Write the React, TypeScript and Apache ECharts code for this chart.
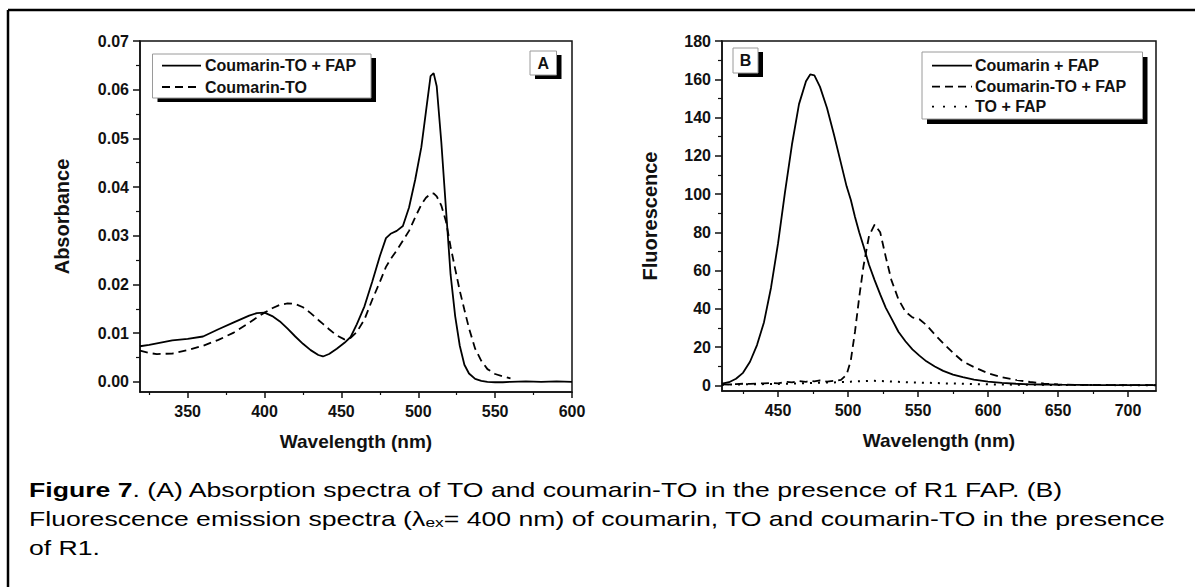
import React, { useEffect, useRef } from "react";
import * as echarts from "echarts";

// ---------- Panel A: absorption ----------
const A_WAVELENGTHS = [319, 325, 330, 340, 350, 360, 370, 380, 390, 395, 400, 405, 410, 415, 420, 425, 430, 435, 438, 442, 447, 452, 456, 460, 465, 470, 475, 479, 482, 486, 490, 494, 498, 502, 505, 508, 510, 512, 515, 518, 521, 524, 527, 530, 533, 537, 541, 545, 550, 555, 560, 570, 580, 590, 600];
const A_COUMARIN_TO_FAP = [0.0073, 0.0076, 0.0079, 0.0085, 0.0088, 0.0093, 0.0108, 0.0122, 0.0136, 0.0141, 0.0142, 0.0135, 0.0124, 0.0109, 0.0093, 0.0078, 0.0065, 0.0055, 0.0052, 0.0057, 0.0068, 0.008, 0.0092, 0.0118, 0.0155, 0.0205, 0.0258, 0.0295, 0.0304, 0.031, 0.032, 0.0358, 0.0415, 0.0482, 0.0555, 0.0628, 0.0634, 0.0607, 0.0492, 0.0356, 0.0221, 0.0135, 0.0074, 0.0035, 0.0017, 0.0006, 0.0002, 0.0, -0.0001, -0.0001, 0.0, 0.0001, 0.0, 0.0001, 0.0];
const A_COUMARIN_TO = [0.0064, 0.0059, 0.0057, 0.0058, 0.0065, 0.0074, 0.0086, 0.0101, 0.0121, 0.0132, 0.0142, 0.0151, 0.0158, 0.0161, 0.016, 0.0153, 0.0141, 0.0127, 0.0119, 0.0108, 0.0095, 0.0087, 0.009, 0.0102, 0.0128, 0.0168, 0.0205, 0.0236, 0.0252, 0.027, 0.029, 0.031, 0.0338, 0.0364, 0.0378, 0.0386, 0.0387, 0.0381, 0.0362, 0.033, 0.0278, 0.0232, 0.0187, 0.0148, 0.011, 0.0068, 0.0043, 0.0026, 0.0016, 0.0011, 0.0007, null, null, null, null];
const A_X_TICKS = [350, 400, 450, 500, 550, 600];
const A_X_MINOR = [325, 375, 425, 475, 525, 575];
const A_Y_TICKS = [0, 0.01, 0.02, 0.03, 0.04, 0.05, 0.06, 0.07];
const A_Y_MINOR = [0.005, 0.015, 0.025, 0.035, 0.045, 0.055, 0.065];
const A_LEGEND = ["Coumarin-TO + FAP", "Coumarin-TO"];

// ---------- Panel B: fluorescence ----------
const B_WAVELENGTHS = [410, 415, 420, 425, 430, 435, 440, 445, 450, 455, 460, 465, 470, 473, 476, 480, 485, 490, 495, 499, 502, 505, 508, 511, 515, 519, 523, 527, 531, 536, 541, 546, 551, 556, 562, 568, 575, 582, 590, 600, 610, 620, 630, 640, 650, 665, 680, 700, 720];
const B_COUMARIN_FAP = [0.8, 1.6, 3.4, 6.5, 12.3, 21, 33, 51, 74, 101, 126, 147, 159, 162.5, 162, 156, 145, 131, 116, 104, 97, 88, 80, 73, 63, 55, 47.5, 40.5, 35, 28, 23, 18.8, 15.5, 12.5, 9.8, 7.5, 5.6, 4.2, 3.0, 1.9, 1.2, 0.8, 0.5, 0.4, 0.3, 0.2, 0.1, 0.1, 0.1];
const B_COUMARIN_TO_FAP = [0.5, 0.4, 0.6, 0.8, 0.7, 0.9, 1.0, 1.2, 1.0, 1.8, 1.5, 2.2, 1.8, 2.3, 2.0, 2.5, 1.9, 2.3, 2.8, 5.5, 13, 28, 46, 62, 78, 84, 80, 67, 55, 45, 38.5, 35.5, 34.5, 31.5, 26.5, 22, 17, 12.5, 9.5, 6.3, 4.2, 2.8, 1.7, 0.9, 0.4, 0.2, 0.1, 0.1, 0.1];
const B_TO_FAP = [0.3, 0.35, 0.4, 0.45, 0.5, 0.55, 0.6, 0.65, 0.7, 0.8, 0.9, 1.0, 1.1, 1.2, 1.2, 1.3, 1.4, 1.5, 1.7, 1.8, 1.9, 2.0, 2.1, 2.2, 2.3, 2.3, 2.2, 2.1, 2.0, 1.8, 1.6, 1.5, 1.4, 1.3, 1.2, 1.0, 0.9, 0.8, 0.6, 0.5, 0.4, 0.3, 0.25, 0.2, 0.15, 0.1, 0.1, 0.05, 0];
const B_X_TICKS = [450, 500, 550, 600, 650, 700];
const B_X_MINOR = [425, 475, 525, 575, 625, 675];
const B_Y_TICKS = [0, 20, 40, 60, 80, 100, 120, 140, 160, 180];
const B_Y_MINOR = [10, 30, 50, 70, 90, 110, 130, 150, 170];
const B_LEGEND = ["Coumarin + FAP", "Coumarin-TO + FAP", "TO + FAP"];

const CAPTION_1_BOLD = "Figure 7";
const CAPTION_1 = ". (A) Absorption spectra of TO and coumarin-TO in the presence of R1 FAP. (B)";
const CAPTION_2_PRE = "Fluorescence emission spectra (\u03bb";
const CAPTION_2_SUB = "ex";
const CAPTION_2_POST = "= 400 nm) of coumarin, TO and coumarin-TO in the presence";
const CAPTION_3 = "of R1.";

const FONT = "'Liberation Sans', Arial, sans-serif";
const INK = "#111";
const DASH = [8, 5];
const DOT = [2, 6];

function pairs(xs: number[], ys: (number | null)[]) {
  const out: number[][] = [];
  xs.forEach((x, i) => {
    const y = ys[i];
    if (y !== null && y !== undefined) out.push([x, y]);
  });
  return out;
}

function measure(text: string, font: string) {
  const c = document.createElement("canvas").getContext("2d");
  if (!c) return text.length * 9;
  c.font = font;
  return c.measureText(text).width;
}

function majorX(grid: number, min: number, max: number, ticks: number[], name: string) {
  return {
    type: "value", gridIndex: grid, min, max, position: "bottom",
    axisLine: { show: true, onZero: false, lineStyle: { color: INK, width: 1.5 } },
    axisTick: { show: true, length: 6, customValues: ticks, lineStyle: { color: INK, width: 1.5 } },
    axisLabel: { customValues: ticks, margin: 11, fontFamily: FONT, fontWeight: "bold", fontSize: 16, color: INK },
    splitLine: { show: false },
    name, nameLocation: "middle", nameGap: 40,
    nameTextStyle: { fontFamily: FONT, fontWeight: "bold", fontSize: 19, color: INK },
  };
}
function minorX(grid: number, min: number, max: number, ticks: number[]) {
  return {
    type: "value", gridIndex: grid, min, max, position: "bottom",
    axisLine: { show: false, onZero: false },
    axisTick: { show: true, length: 3, customValues: ticks, lineStyle: { color: INK, width: 1.2 } },
    axisLabel: { show: false }, splitLine: { show: false },
  };
}
function majorY(grid: number, min: number, max: number, ticks: number[], name: string, gap: number, fmt: (v: number) => string) {
  return {
    type: "value", gridIndex: grid, min, max, position: "left",
    axisLine: { show: true, onZero: false, lineStyle: { color: INK, width: 1.5 } },
    axisTick: { show: true, length: 7, customValues: ticks, lineStyle: { color: INK, width: 1.5 } },
    axisLabel: { customValues: ticks, margin: 11, fontFamily: FONT, fontWeight: "bold", fontSize: 16, color: INK, formatter: fmt },
    splitLine: { show: false },
    name, nameLocation: "middle", nameGap: gap,
    nameTextStyle: { fontFamily: FONT, fontWeight: "bold", fontSize: 20, color: INK },
  };
}
function minorY(grid: number, min: number, max: number, ticks: number[]) {
  return {
    type: "value", gridIndex: grid, min, max, position: "left",
    axisLine: { show: false, onZero: false },
    axisTick: { show: true, length: 4, customValues: ticks, lineStyle: { color: INK, width: 1.2 } },
    axisLabel: { show: false }, splitLine: { show: false },
  };
}

function lineSeries(xi: number, yi: number, data: number[][], dash: any, width = 1.8) {
  return {
    type: "line", xAxisIndex: xi, yAxisIndex: yi, data, showSymbol: false, symbol: "none",
    silent: true, clip: true, smooth: false,
    lineStyle: { color: "#000", width, type: dash, cap: "butt" },
  };
}

function legendBox(x: number, y: number, w: number, h: number, dx: number, dy: number) {
  return [
    { type: "rect", shape: { x: x + dx, y: y + dy, width: w, height: h }, style: { fill: "#000" }, z: 10 },
    { type: "rect", shape: { x, y, width: w, height: h }, style: { fill: "#fff", stroke: "#9a9a9a", lineWidth: 1 }, z: 11 },
  ];
}
function legendText(text: string, x: number, y: number, align = "left") {
  return {
    type: "text", x, y, z: 12,
    style: { text, fontFamily: FONT, fontWeight: "bold", fontSize: 16, fill: INK, align, verticalAlign: "middle" },
  };
}
function legendLine(x1: number, x2: number, y: number, dash: any) {
  return {
    type: "line", z: 12, shape: { x1, y1: y, x2, y2: y },
    style: { stroke: "#000", lineWidth: 1.8, lineDash: dash },
  };
}

export default function App() {
  const ref = useRef<HTMLDivElement>(null);
  useEffect(() => {
    if (!ref.current) return;
    const chart = echarts.init(ref.current, null, { renderer: "svg", width: 1195, height: 587 });

    const capSize = 20;
    const subSize = 13;
    const capFont = `${capSize}px ${FONT}`;
    const line2W =
      measure(CAPTION_2_PRE, capFont) + measure(CAPTION_2_SUB, `${subSize}px ${FONT}`) + measure(CAPTION_2_POST, capFont);
    const capScale = 1137 / line2W;

    const caption = (text: string, y: number, rich: any) => ({
      type: "text", x: 29, y, scaleX: capScale, z: 12,
      style: { text, fontFamily: FONT, fontSize: capSize, fill: "#000", align: "left", verticalAlign: "middle", rich },
    });
    const rich = {
      b: { fontFamily: FONT, fontSize: capSize, fontWeight: "bold", fill: "#000" },
      n: { fontFamily: FONT, fontSize: capSize, fill: "#000" },
      s: { fontFamily: FONT, fontSize: subSize, fill: "#000", verticalAlign: "bottom", lineHeight: 13 },
    };

    const option: any = {
      animation: false,
      backgroundColor: "#fff",
      grid: [
        { left: 140, top: 41, width: 432, height: 351, show: true, borderColor: INK, borderWidth: 1.5, backgroundColor: "transparent", containLabel: false },
        { left: 722, top: 41, width: 434, height: 350, show: true, borderColor: INK, borderWidth: 1.5, backgroundColor: "transparent", containLabel: false },
      ],
      xAxis: [
        majorX(0, 319, 600, A_X_TICKS, "Wavelength (nm)"),
        minorX(0, 319, 600, A_X_MINOR),
        majorX(1, 410, 720, B_X_TICKS, "Wavelength (nm)"),
        minorX(1, 410, 720, B_X_MINOR),
      ],
      yAxis: [
        majorY(0, -0.0021, 0.07, A_Y_TICKS, "Absorbance", 68, (v: number) => v.toFixed(2)),
        minorY(0, -0.0021, 0.07, A_Y_MINOR),
        majorY(1, -3, 180, B_Y_TICKS, "Fluorescence", 62, (v: number) => String(Math.round(v))),
        minorY(1, -3, 180, B_Y_MINOR),
      ],
      series: [
        lineSeries(0, 0, pairs(A_WAVELENGTHS, A_COUMARIN_TO), DASH),
        lineSeries(0, 0, pairs(A_WAVELENGTHS, A_COUMARIN_TO_FAP), "solid"),
        lineSeries(2, 2, pairs(B_WAVELENGTHS, B_TO_FAP), DOT, 2),
        lineSeries(2, 2, pairs(B_WAVELENGTHS, B_COUMARIN_TO_FAP), DASH),
        lineSeries(2, 2, pairs(B_WAVELENGTHS, B_COUMARIN_FAP), "solid"),
      ],
      graphic: [
        // outer frame (top & left)
        { type: "line", shape: { x1: 8, y1: 10, x2: 1195, y2: 10 }, style: { stroke: "#000", lineWidth: 2.5 } },
        { type: "line", shape: { x1: 8, y1: 10, x2: 8, y2: 587 }, style: { stroke: "#000", lineWidth: 2.5 } },
        // Panel A legend
        ...legendBox(152.5, 54, 218.5, 44, 5, 4),
        legendLine(162, 201, 65.7, null),
        legendLine(162, 201, 87, DASH),
        legendText(A_LEGEND[0], 205, 65.7),
        legendText(A_LEGEND[1], 205, 87),
        ...legendBox(530, 51, 26.5, 24, 5, 4),
        legendText("A", 543.3, 63.5, "center"),
        // Panel B legend
        ...legendBox(922, 52, 220.5, 67, 5, 5),
        legendLine(932, 972, 65.7, null),
        legendLine(932, 972, 86.7, DASH),
        legendLine(932, 972, 106.7, [2, 9]),
        legendText(B_LEGEND[0], 975, 65.7),
        legendText(B_LEGEND[1], 975, 86.7),
        legendText(B_LEGEND[2], 975, 106.7),
        ...legendBox(733, 48, 25, 25, 5, 4),
        legendText("B", 745.5, 60.5, "center"),
        // caption
        caption(`{b|${CAPTION_1_BOLD}}{n|${CAPTION_1}}`, 490, rich),
        caption(`{n|${CAPTION_2_PRE}}{s|${CAPTION_2_SUB}}{n|${CAPTION_2_POST}}`, 519, rich),
        caption(`{n|${CAPTION_3}}`, 548, rich),
      ],
    };
    chart.setOption(option);
    return () => chart.dispose();
  }, []);
  return (
    <div
      ref={ref}
      style={{ position: "fixed", left: 0, top: 0, width: 1195, height: 587, background: "#fff" }}
    />
  );
}
